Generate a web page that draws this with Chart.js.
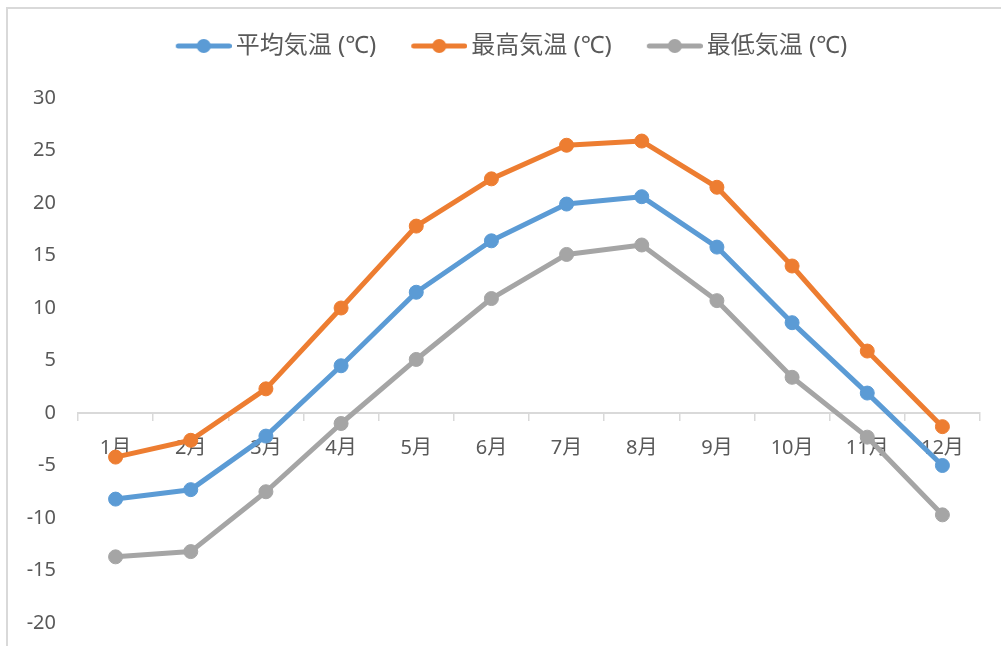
<!DOCTYPE html>
<html>
<head>
<meta charset="utf-8">
<script src="https://cdn.jsdelivr.net/npm/chart.js@4.4.1/dist/chart.umd.min.js"></script>
<style>
  html, body { margin: 0; padding: 0; background: #fff; }
  #wrap { position: relative; width: 1001px; height: 646px; }
</style>
</head>
<body>
<div id="wrap"><canvas id="chart"></canvas></div>
<script>
// Monthly temperatures (°C)
const months = ['1月', '2月', '3月', '4月', '5月', '6月', '7月', '8月', '9月', '10月', '11月', '12月'];
const avgTemp = [-8.2, -7.3, -2.2, 4.5, 11.5, 16.4, 19.9, 20.6, 15.8, 8.6, 1.9, -5.0];
const maxTemp = [-4.2, -2.6, 2.3, 10.0, 17.8, 22.3, 25.5, 25.9, 21.5, 14.0, 5.9, -1.3];
const minTemp = [-13.7, -13.2, -7.5, -1.0, 5.1, 10.9, 15.1, 16.0, 10.7, 3.4, -2.3, -9.7];
const seriesNames = ['平均気温 (℃)', '最高気温 (℃)', '最低気温 (℃)'];
const seriesColors = ['#5B9BD5', '#ED7D31', '#A5A5A5'];
const yMin = -20, yMax = 30, yStep = 5;

const textColor = '#595959';
const axisColor = '#D9D9D9';
Chart.defaults.font.family = "'Noto Sans', 'Noto Sans CJK JP', sans-serif";

// Legend symbol: a short thick line with a round marker, drawn to the right
// side of a wider transparent canvas so it sits close to its label.
function legendSymbol(color) {
  const c = document.createElement('canvas');
  c.width = 89; c.height = 16;
  const g = c.getContext('2d');
  g.strokeStyle = color;
  g.lineWidth = 5;
  g.lineCap = 'round';
  g.beginPath();
  g.moveTo(35.5, 8); g.lineTo(86.5, 8);
  g.stroke();
  g.fillStyle = color;
  g.beginPath();
  g.arc(61, 8, 7, 0, Math.PI * 2);
  g.fill();
  return c;
}
const symbols = seriesColors.map(legendSymbol);

// Extra room between the legend row and the plot.
const legendSpacer = {
  id: 'legendSpacer',
  beforeLayout(chart) {
    const lg = chart.legend;
    if (lg && !lg._spaced) {
      const fit = lg.fit;
      lg.fit = function () { fit.call(this); this.height += 30; };
      lg._spaced = true;
    }
  }
};

// Thin frame along the top and left edges of the chart.
const frame = {
  id: 'frame',
  beforeDraw(chart) {
    const ctx = chart.ctx;
    ctx.save();
    ctx.strokeStyle = axisColor;
    ctx.lineWidth = 2;
    ctx.beginPath();
    ctx.moveTo(7, chart.height);
    ctx.lineTo(7, 8);
    ctx.lineTo(chart.width, 8);
    ctx.stroke();
    ctx.restore();
  }
};

function series(label, data, color) {
  return {
    label, data,
    borderColor: color,
    backgroundColor: color,
    borderWidth: 5,
    borderJoinStyle: 'round',
    borderCapStyle: 'round',
    pointRadius: 7,
    pointBorderWidth: 1,
    pointHoverRadius: 7,
    pointBackgroundColor: color,
    pointBorderColor: color,
    tension: 0
  };
}

new Chart(document.getElementById('chart'), {
  type: 'line',
  data: {
    labels: months,
    datasets: [
      series(seriesNames[0], avgTemp, seriesColors[0]),
      series(seriesNames[1], maxTemp, seriesColors[1]),
      series(seriesNames[2], minTemp, seriesColors[2])
    ]
  },
  options: {
    responsive: true,
    maintainAspectRatio: false,
    animation: false,
    events: [],
    layout: { padding: { left: 18, right: 21, top: 24, bottom: 23 } },
    plugins: {
      tooltip: { enabled: false },
      legend: {
        position: 'top',
        align: 'center',
        labels: {
          usePointStyle: true,
          pointStyleWidth: 73,
          padding: 10,
          color: textColor,
          font: { size: 24 },
          generateLabels(chart) {
            return Chart.defaults.plugins.legend.labels.generateLabels(chart)
              .map((item, i) => Object.assign(item, { pointStyle: symbols[i] }));
          }
        }
      }
    },
    scales: {
      x: {
        type: 'category',
        position: { y: 0 },
        offset: true,
        grid: {
          display: true,
          drawOnChartArea: false,
          drawTicks: true,
          tickLength: 7,
          offset: true,
          color: axisColor,
          lineWidth: 1.5
        },
        border: { display: true, color: axisColor, width: 2 },
        ticks: { display: false }
      },
      xLabels: {
        type: 'category',
        position: { y: 0 },
        offset: true,
        z: 1,
        grid: { display: false, drawTicks: false },
        border: { display: false },
        ticks: {
          color: textColor,
          font: { size: 20 },
          padding: 23,
          maxRotation: 0,
          autoSkip: false
        }
      },
      y: {
        min: yMin,
        max: yMax,
        grid: { display: false, drawTicks: false },
        border: { display: false },
        ticks: {
          stepSize: yStep,
          color: textColor,
          font: { size: 20 },
          padding: 22
        },
        afterFit(scale) {
          scale.width = 60;
          scale.paddingTop = 0;
          scale.paddingBottom = 0;
        }
      }
    }
  },
  plugins: [legendSpacer, frame]
});
</script>
</body>
</html>
